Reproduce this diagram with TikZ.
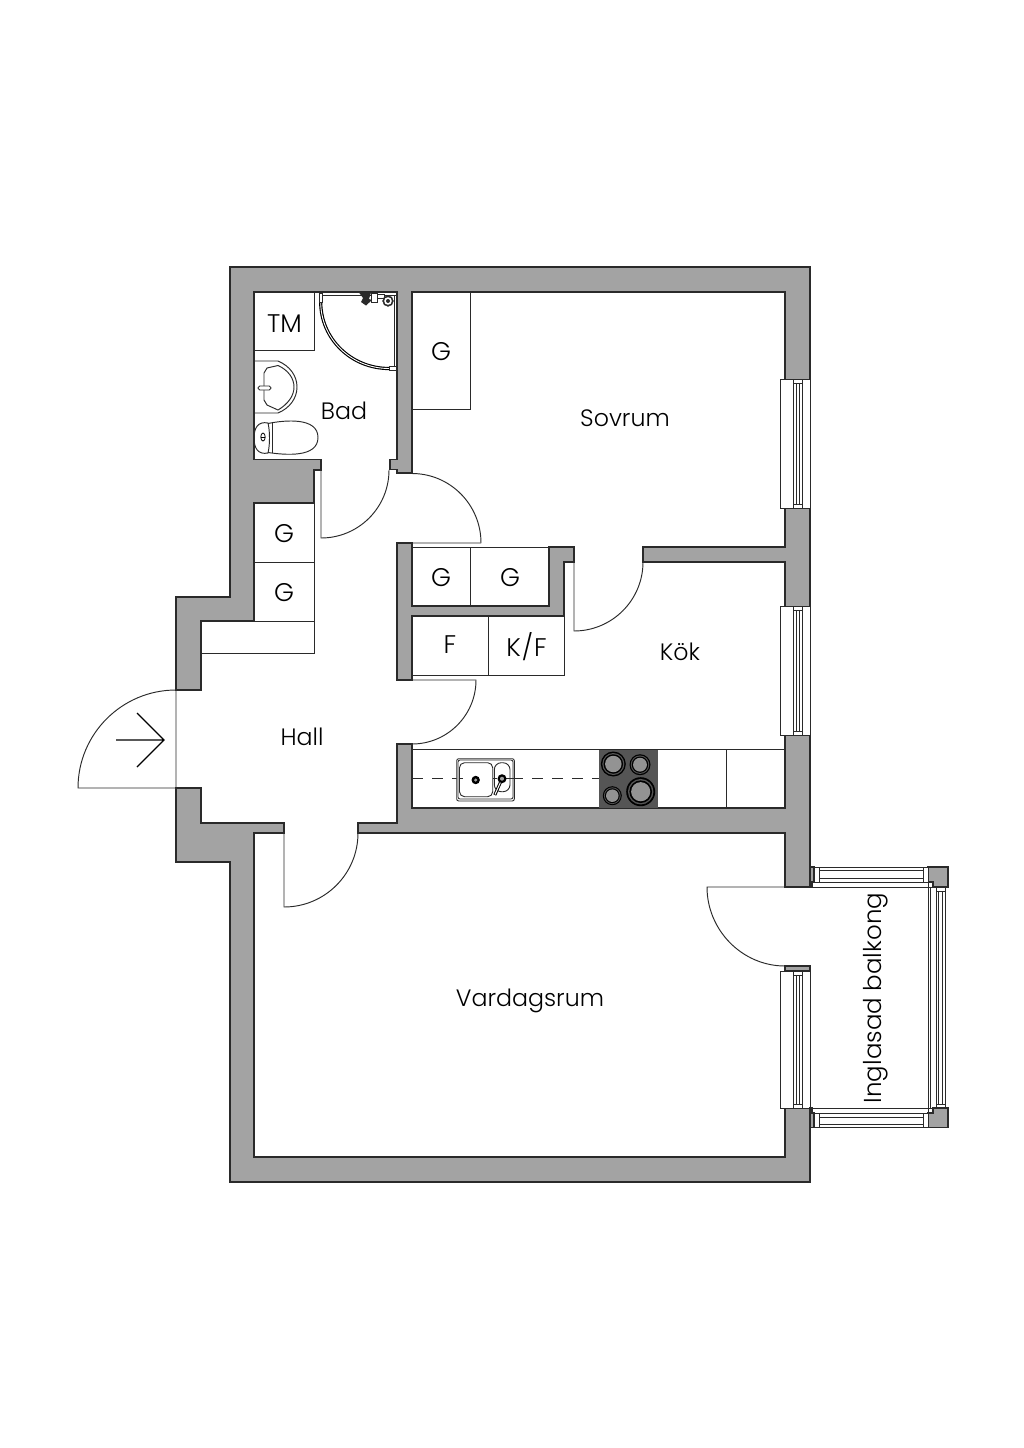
\documentclass[tikz,border=0pt]{standalone}
\usepackage{fontspec}
\setmainfont{Poppins Light}
\definecolor{wallgray}{HTML}{A3A3A3}
\definecolor{ink}{HTML}{2A2A2A}
\definecolor{hobdark}{HTML}{555555}
\tikzset{
  wall/.style={fill=wallgray,draw=ink,line width=1.1pt,line join=miter},
  fitting/.style={fill=white,draw=ink,line width=1pt},
  thin line/.style={draw=ink,line width=0.95pt},
  room/.style={font=\fontsize{23.7}{24}\selectfont,text=black,inner sep=0pt},
  tag/.style={font=\fontsize{25.5}{26}\selectfont,text=black,inner sep=0pt},
}
\newcommand{\roomwindow}[2]{%
  \draw[fitting] (780.5,#1) rectangle (810,#2);
  \draw[thin line] (793,#1) -- (793,#2) (802,#1) -- (802,#2) (793,#1+4) -- (802,#1+4) (793,#2-4) -- (802,#2-4) (796,#1+4) -- (796,#2-4) (799,#1+4) -- (799,#2-4);
}
\newcommand{\burner}[3]{%
  \fill[black] (#1,#2) circle (#3);
  \fill[hobdark] (#1,#2) circle (#3*0.88);
  \fill[black] (#1,#2) circle (#3*0.78);
  \fill[wallgray!90!black] (#1,#2) circle (#3*0.66);
}
\begin{document}
\begin{tikzpicture}[x=1pt,y=-1pt]
\useasboundingbox (0,0) rectangle (1024,1448);
\fill[white] (0,0) rectangle (1024,1448);
% fitted cupboards
\draw[fitting] (254,292) rectangle (314,350.5);
\draw[fitting] (412,292) rectangle (470.5,409.5);
\draw[fitting] (254,503) rectangle (314,562);
\draw[fitting] (254,562) rectangle (314,621);
\draw[fitting] (201,621) rectangle (314,653);
\draw[fitting] (412,547) rectangle (470.5,606);
\draw[fitting] (470.5,547) rectangle (549,606);
\draw[fitting] (412,616) rectangle (488,675.5);
\draw[fitting] (488,616) rectangle (564,675.5);
\draw[fitting] (412,749) rectangle (785,808);
\draw[thin line] (726,749) -- (726,808);
% walls
\path[wall] (176,690) -- (176,597) -- (230,597) -- (230,267) -- (810,267) -- (810,887) -- (785,887) -- (785,833) -- (358,833) -- (358,823) -- (397,823) -- (397,744) -- (412,744) -- (412,808) -- (785,808) -- (785,562) -- (643,562) -- (643,547) -- (785,547) -- (785,292) -- (412,292) -- (412,473) -- (397,473) -- (397,469.5) -- (390,469.5) -- (390,459.5) -- (397,459.5) -- (397,292) -- (254,292) -- (254,459.5) -- (321,459.5) -- (321,470) -- (314,470) -- (314,503) -- (254,503) -- (254,621) -- (201,621) -- (201,690) -- cycle;
\path[wall] (397,543) -- (412,543) -- (412,606) -- (549,606) -- (549,547) -- (574,547) -- (574,562) -- (564,562) -- (564,616) -- (412,616) -- (412,680) -- (397,680) -- cycle;
\path[wall] (176,788) -- (201,788) -- (201,823) -- (284,823) -- (284,833) -- (254,833) -- (254,1157) -- (785,1157) -- (785,1108) -- (810,1108) -- (810,1182) -- (230,1182) -- (230,862) -- (176,862) -- cycle;
\path[wall] (785,966) rectangle (810,971);
% room windows
\roomwindow{379.5}{508.5}
\roomwindow{606}{735.5}
\roomwindow{971}{1108}
% doors
\draw[thin line] (176,690) -- (176,788) -- (78,788) .. controls (78,733.9) and (121.9,690) .. (176,690);
\draw[thin line] (321,470) -- (321,538) .. controls (358.6,538) and (389,507.6) .. (389,470);
\draw[thin line] (481,543) -- (412,543) (412,473.5) .. controls (450.1,473.5) and (481,504.6) .. (481,543);
\draw[thin line] (574,562) -- (574,631) .. controls (612.1,631) and (643,600.1) .. (643,562);
\draw[thin line] (412,680) -- (476,680) .. controls (476,715.3) and (447.3,744) .. (412,744);
\draw[thin line] (284,833) -- (284,907) .. controls (324.9,907) and (358,873.9) .. (358,833);
\draw[thin line] (785,887) -- (707,887) .. controls (707,930) and (742,966) .. (785,966);
% entrance arrow
\draw[black,line width=1.3pt] (116,740) -- (164,740) (137,713) -- (164,740) -- (137,767);
% balcony
\path[wall] (810,867) -- (814,867) -- (814,882) -- (812,882) -- (812,887) -- (810,887) -- cycle;
\path[wall] (810,1108) -- (812,1108) -- (812,1113) -- (814,1113) -- (814,1127.5) -- (810,1127.5) -- cycle;
\path[wall] (928,867) -- (948,867) -- (948,887) -- (933,887) -- (933,882) -- (928,882) -- cycle;
\path[wall] (933,1108) -- (948,1108) -- (948,1127.5) -- (928,1127.5) -- (928,1113) -- (933,1113) -- cycle;
\draw[fitting] (814,867) rectangle (928,882);
\draw[thin line] (819,870.5) rectangle (923,878) (923,867) -- (923,882) (819,867) -- (819,882);
\draw[thin line] (812,887) -- (933,887) (928,882) -- (928,1113);
\draw[fitting] (814,1113) rectangle (928,1127.5);
\draw[thin line] (819,1117) rectangle (923,1124) (923,1113) -- (923,1127.5) (819,1113) -- (819,1127.5);
\draw[thin line] (812,1108) -- (933,1108);
\draw[thin line] (930.5,887) -- (930.5,1108) (933,882) -- (933,887) (933,1108) -- (933,1113);
\draw[thin line] (936,887) rectangle (945,1108);
\draw[thin line] (936,891) -- (945,891) (936,1104) -- (945,1104) (938.5,891) -- (938.5,1104) (942.5,891) -- (942.5,1104);
% kitchen counter
\draw[thin line,dash pattern=on 11pt off 9pt] (412,778.5) -- (599,778.5);
\fill[hobdark] (598.5,749.5) rectangle (658,808);
\burner{613.3}{764}{12.5}
\burner{640}{764.7}{10.5}
\burner{612.3}{795.7}{9.5}
\burner{640.7}{791.7}{14.5}
% sink
\draw[fill=white,draw=ink,line width=0.9pt,rounded corners=2pt] (456.7,758.7) rectangle (514.3,801);
\draw[draw=ink,line width=0.8pt,rounded corners=2pt] (458,760) rectangle (513,799);
\draw[draw=ink,line width=0.9pt,rounded corners=5pt] (459.5,762.7) rectangle (492.7,796.7);
\draw[draw=ink,line width=0.9pt,rounded corners=7pt] (494.3,762.7) rectangle (510,791.7);
\draw[thin line] (459,778.5) -- (463,778.5) (492.7,778.5) -- (497,778.5) (506,778.5) -- (514,778.5);
\fill[black] (475.7,780) circle (4.2);
\fill[wallgray] (475.7,780) circle (1.7);
\draw[draw=black,line width=3pt] (502,778.7) -- (494.8,795);
\draw[draw=white,line width=1pt] (501.5,780) -- (495,794.5);
\fill[black] (502,778.7) circle (4.5);
\fill[wallgray] (502,778.7) circle (2);
% shower
\draw[draw=ink,line width=1pt] (321,292.5) -- (321,295.5) -- (397,295.5);
\draw[draw=ink,line width=1pt] (394.8,295.5) -- (394.8,369);
\draw[draw=black,line width=3.2pt] (320.7,302) .. controls (320.7,338.7) and (351.2,368.5) .. (389,368.5);
\draw[draw=white,line width=0.9pt] (320.7,302) .. controls (320.7,338.7) and (351.2,368.5) .. (389,368.5);
\draw[fitting,line width=0.9pt] (319,293) rectangle (322.5,302);
\draw[fitting,line width=0.9pt] (389,366.5) rectangle (396.5,370.5);
\fill[ink] (359,292.5) -- (371,292.5) -- (369,299) -- (372,300) -- (366,305.5) -- (361,302) -- (363,298) -- cycle;
\draw[fitting,line width=0.8pt] (371,293) rectangle (377,302);
\draw[fitting,line width=0.8pt] (377,294) rectangle (384,298.5);
\draw[fill=ink,draw=ink] (388,301) circle (5.4);
\fill[white] (388,301) circle (3.8);
\fill[ink] (388,301) circle (2);
% basin
\draw[thin line] (254,361) -- (278,361) .. controls (290,366) and (297,376) .. (297,387) .. controls (297,398) and (290,408) .. (278,413) -- (254,413);
\draw[thin line] (264,373) -- (267,368) -- (278,365.5) .. controls (288,370) and (294,378) .. (294,387) .. controls (294,396) and (288,404) .. (278,410) -- (267,405) -- (264,400) -- cycle;
\draw[fill=white,draw=ink,line width=0.9pt,rounded corners=1.8pt] (258,386) rectangle (271,390);
% toilet
\draw[thin line] (268,423) .. controls (258,421) and (254,428) .. (254,438) .. controls (254,448) and (258,455) .. (268,453) .. controls (270,445) and (270,431) .. (268,423) -- cycle;
\draw[thin line] (272,423) -- (272,453);
\draw[thin line] (268,423.5) .. controls (285,420) and (318,417) .. (318,437.5) .. controls (318,458) and (285,455) .. (268,452.5);
\draw[draw=black,line width=0.8pt] (263,437) ellipse (2.2 and 4);
\draw[draw=black,line width=0.6pt] (261,437) -- (265,437);
% labels
\node[tag] (lTM) at (284.5,323.5) {TM};
\node[tag] (lG1) at (441,351.5) {G};
\node[room] (lBad) at (344,411) {Bad};
\node[room] (lSov) at (625,418) {Sovrum};
\node[tag] (lG2) at (284,533.5) {G};
\node[tag] (lG3) at (284,592.5) {G};
\node[tag] (lG4) at (441,577.5) {G};
\node[tag] (lG5) at (510,577.5) {G};
\node[tag] (lF) at (450,645) {F};
\node[tag] (lKF) at (526.5,647) {K\kern1pt/\kern1pt F};
\node[room] (lKok) at (680,652) {Kök};
\node[room] (lHall) at (302,737) {Hall};
\node[room] (lVar) at (530,1001) {Vardagsrum};
\node[room,rotate=90,font=\fontsize{24.5}{25}\selectfont] (lBal) at (875.5,998) {Inglasad balkong};
\end{tikzpicture}
\end{document}
